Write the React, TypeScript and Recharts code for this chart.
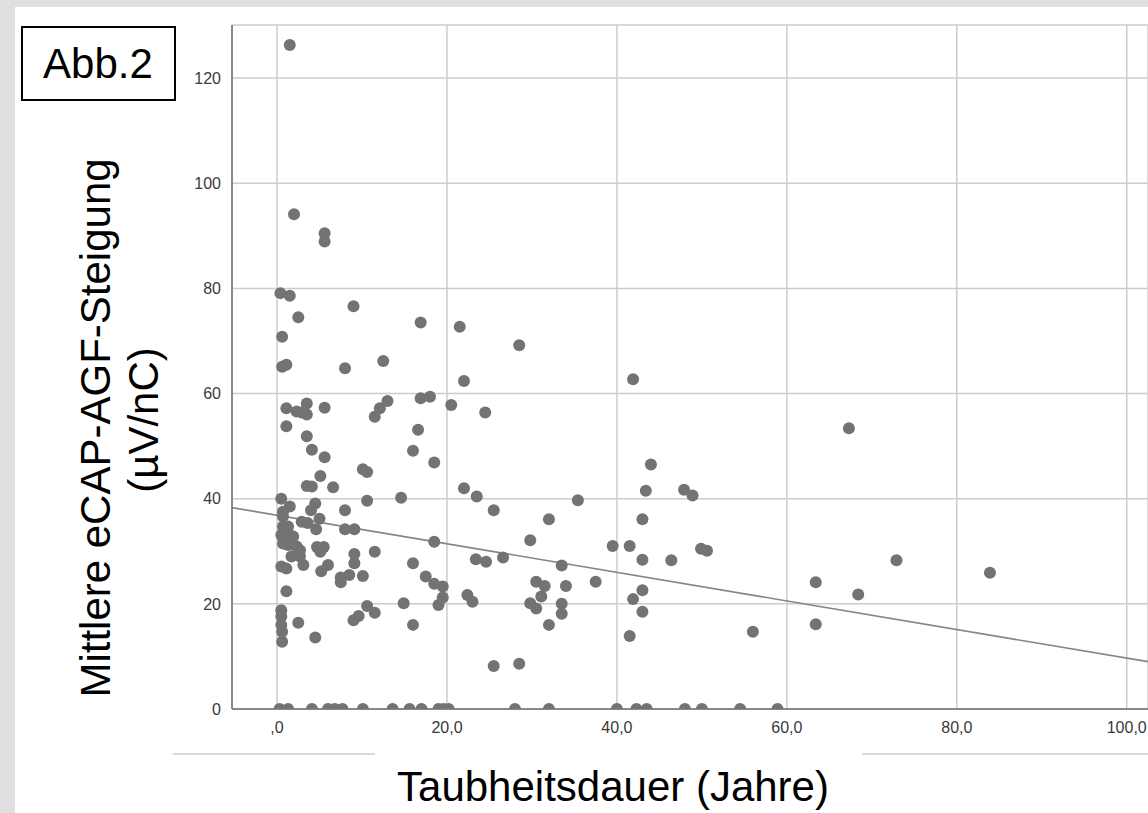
import React from "react";
import {
  ScatterChart,
  Scatter,
  XAxis,
  YAxis,
  CartesianGrid,
  ReferenceLine,
} from "recharts";

// Taubheitsdauer (Jahre)
const durations = [
  1.5, 2.0, 5.6, 5.6, 0.4, 1.5, 9.0, 2.5, 16.9, 21.5, 28.5, 0.6, 0.6, 1.1, 8.0, 12.5, 22.0, 41.9, 67.3,
  1.1, 2.3, 2.9, 3.5, 3.5, 5.6, 13.0, 12.1, 11.5, 16.9, 18.0, 20.5, 24.5, 1.1, 3.5, 16.6,
  4.1, 5.6, 16.0, 18.5, 10.1, 10.6, 5.1, 3.5, 4.1, 6.6, 22.0, 23.5, 14.6, 10.6, 44.0, 43.4, 47.9, 48.9,
  4.5, 4.0, 8.0, 25.5, 2.9, 3.6, 5.0, 4.6, 8.0, 9.1, 18.5, 29.8, 35.4, 32.0, 43.0, 39.5, 41.5, 49.9, 50.6,
  0.5, 1.5, 0.7, 0.7, 1.3, 0.7, 0.5, 1.3, 1.9, 0.7, 1.3, 2.3, 2.7, 1.7, 2.7, 0.5, 1.1, 3.1,
  4.7, 5.5, 5.1, 6.0, 5.2, 9.1, 9.1, 11.5, 7.5, 7.5, 8.5, 10.1, 16.0, 17.5, 18.5, 19.5, 19.5, 19.0,
  22.4, 23.0, 23.4, 24.6, 26.6, 1.1, 43.0, 46.4, 33.5, 30.5, 31.5, 31.1, 34.0, 37.5, 43.0, 41.9,
  63.4, 72.9, 83.9, 68.4,
  29.8, 14.9, 16.0, 10.6, 11.5, 9.0, 9.6, 0.5, 0.5, 0.5, 0.6, 0.6, 2.5, 4.5, 25.5, 28.5,
  30.5, 33.5, 33.5, 43.0, 32.0, 41.5, 56.0, 63.4,
  0.3, 1.3, 4.1, 6.0, 6.8, 7.7, 10.1, 13.6, 15.6, 17.0, 19.0, 19.6, 20.2, 28.0, 32.0, 40.0, 42.3,
  43.5, 48.0, 50.0, 54.5, 58.9,
];

// Mittlere eCAP-AGF-Steigung (µV/nC)
const slopes = [
  126.3, 94.1, 90.5, 88.9, 79.1, 78.6, 76.6, 74.5, 73.5, 72.7, 69.2, 70.8, 65.1, 65.5, 64.8, 66.2, 62.4, 62.7, 53.4,
  57.2, 56.6, 56.4, 56.0, 58.1, 57.3, 58.6, 57.2, 55.6, 59.1, 59.4, 57.8, 56.4, 53.8, 51.9, 53.1,
  49.3, 47.9, 49.1, 46.9, 45.6, 45.1, 44.3, 42.4, 42.3, 42.2, 42.0, 40.4, 40.2, 39.6, 46.5, 41.5, 41.7, 40.6,
  39.1, 37.8, 37.8, 37.8, 35.6, 35.4, 36.2, 34.2, 34.2, 34.2, 31.8, 32.1, 39.7, 36.1, 36.1, 31.0, 31.0, 30.5, 30.1,
  40.0, 38.5, 37.5, 36.6, 34.7, 34.7, 33.1, 33.4, 32.8, 31.5, 31.2, 30.9, 30.2, 29.0, 29.0, 27.1, 26.7, 27.4,
  30.8, 30.8, 29.9, 27.4, 26.2, 29.5, 27.7, 29.9, 25.0, 24.1, 25.5, 25.3, 27.7, 25.2, 23.8, 23.3, 21.2, 19.8,
  21.7, 20.4, 28.5, 28.0, 28.8, 22.4, 28.4, 28.3, 27.3, 24.2, 23.4, 21.4, 23.4, 24.2, 22.6, 20.9,
  24.1, 28.3, 25.9, 21.8,
  20.1, 20.1, 16.0, 19.6, 18.3, 16.9, 17.7, 18.8, 17.6, 16.0, 14.7, 12.8, 16.4, 13.6, 8.2, 8.6,
  19.1, 20.0, 18.1, 18.5, 16.0, 13.9, 14.7, 16.1,
  0, 0, 0, 0, 0, 0, 0, 0, 0, 0, 0, 0, 0, 0, 0, 0, 0,
  0, 0, 0, 0, 0,
];

const xTicks = [0, 20, 40, 60, 80, 100];
const yTicks = [0, 20, 40, 60, 80, 100, 120];
const fitLine = [
  { x: -5.3, y: 38.3 },
  { x: 102.5, y: 9.0 },
];

const points = durations.map((x, i) => ({ x, y: slopes[i] }));

const FONT = "'Liberation Sans', Arial, Helvetica, sans-serif";
const DOT = "#737373";

function Dot(props: any) {
  return <circle cx={props.cx} cy={props.cy} r={6} fill={DOT} />;
}

const fmtX = (v: number) => (v === 0 ? ",0" : `${v},0`);

export default function App() {
  return (
    <div
      style={{
        position: "absolute",
        left: 0,
        top: 0,
        width: 1148,
        height: 813,
        background: "#e0e0e0",
        overflow: "hidden",
        fontFamily: FONT,
      }}
    >
      <div
        style={{ position: "absolute", left: 15, top: 7, width: 1133, height: 806, background: "#fff" }}
      />
      <div style={{ position: "absolute", left: 0, top: 0 }}>
        <ScatterChart width={1148} height={813} margin={{ top: 25, right: 0, bottom: 74, left: 172 }}>
          <CartesianGrid stroke="#cccccc" strokeWidth={1.5} />
          <XAxis
            type="number"
            dataKey="x"
            domain={[-5.3, 102.5]}
            ticks={xTicks}
            allowDataOverflow
            tickFormatter={fmtX}
            height={30}
            tickLine={false}
            tickSize={8}
            tickMargin={5}
            stroke="#6e6e6e"
            strokeWidth={1.5}
            tick={{ fontSize: 16, fill: "#3a3a3a", fontFamily: FONT }}
          />
          <YAxis
            type="number"
            dataKey="y"
            domain={[0, 130.1]}
            ticks={yTicks}
            allowDataOverflow
            width={60}
            tickLine={false}
            tickSize={8}
            tickMargin={3}
            stroke="#6e6e6e"
            strokeWidth={1.5}
            tick={{ fontSize: 16, fill: "#3a3a3a", fontFamily: FONT }}
          />
          <Scatter data={points} shape={Dot} isAnimationActive={false} />
          <ReferenceLine
            segment={fitLine}
            stroke="#858585"
            strokeWidth={1.6}
            ifOverflow="visible"
          />
        </ScatterChart>
      </div>
      <svg
        width={1148}
        height={813}
        style={{ position: "absolute", left: 0, top: 0, pointerEvents: "none" }}
      >
        <rect x={22} y={27} width={153} height={73} fill="#fff" stroke="#000" strokeWidth={2} />
        <text x={98} y={78} textAnchor="middle" fontSize={42} fontFamily={FONT} fill="#000">
          Abb.2
        </text>
        <text
          transform="translate(110,428) rotate(-90)"
          textAnchor="middle"
          fontSize={42}
          fontFamily={FONT}
          fill="#000"
        >
          Mittlere eCAP-AGF-Steigung
        </text>
        <text
          transform="translate(158,420) rotate(-90)"
          textAnchor="middle"
          fontSize={42}
          fontFamily={FONT}
          fill="#000"
        >
          (µV/nC)
        </text>
        <text x={613} y={801} textAnchor="middle" fontSize={42} fontFamily={FONT} fill="#000">
          Taubheitsdauer (Jahre)
        </text>
        <line x1={173} y1={754} x2={375} y2={754} stroke="#d9d9d9" strokeWidth={2} />
        <line x1={862} y1={754} x2={1148} y2={754} stroke="#d9d9d9" strokeWidth={2} />
      </svg>
    </div>
  );
}
